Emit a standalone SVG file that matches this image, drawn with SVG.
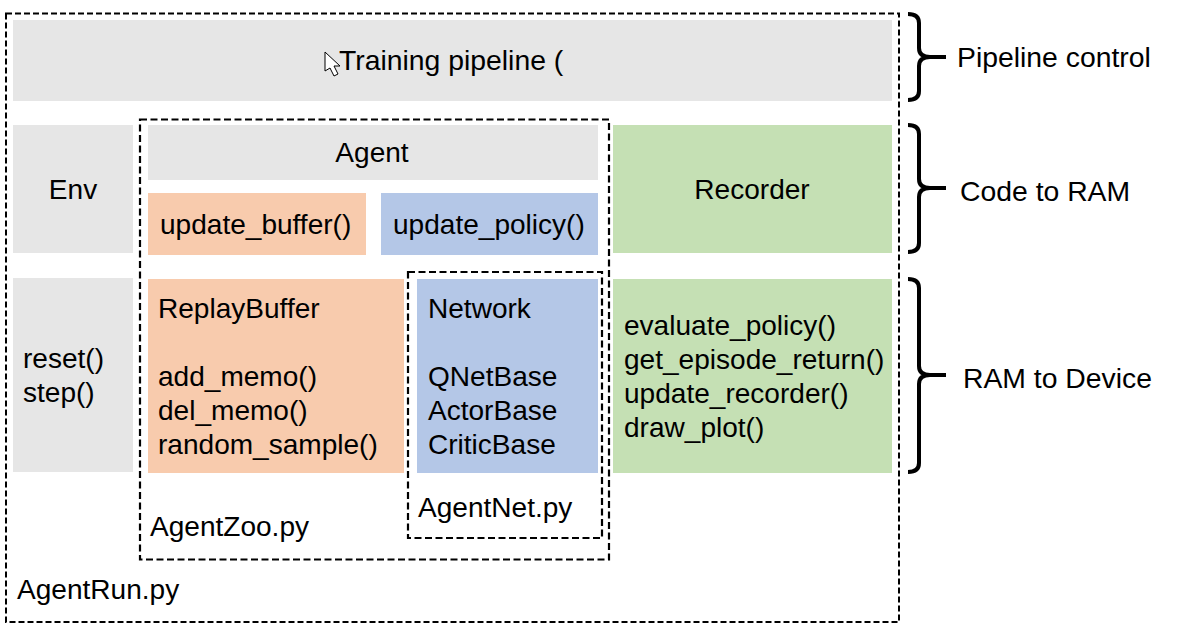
<svg xmlns="http://www.w3.org/2000/svg" width="1177" height="632" viewBox="0 0 1177 632">
<style>
text{font-family:"Liberation Sans",Arial,sans-serif;font-size:28.05px;fill:#000}
.l{font-size:28.35px}
.m{text-anchor:middle}
.gray{fill:#e6e6e6}.or{fill:#f8cbad}.bl{fill:#b4c7e7}.gr{fill:#c5e0b4}
.dash{fill:none;stroke:#000;stroke-width:2;stroke-dasharray:6 3}
.dash2{fill:none;stroke:#000;stroke-width:2.2;stroke-dasharray:7 3.5}
.brace{fill:none;stroke:#000;stroke-width:4}
</style>
<rect width="1177" height="632" fill="#fff"/>
<g id="agentrun"><rect class="dash" x="6" y="13.5" width="893" height="608.5"/><text x="17" y="599">AgentRun.py</text></g>
<g id="pipeline"><rect class="gray" x="13" y="20" width="879" height="81"/><text class="l" x="339" y="70">Training pipeline (</text>
<path d="M325 52V71L330 68L334 76L338 74L334 66L340 66Z" fill="#fff" stroke="#000" stroke-width="1"/></g>
<g id="env"><rect class="gray" x="13" y="125" width="120" height="128"/><text class="m" x="73" y="199">Env</text></g>
<g id="envmethods"><rect class="gray" x="13" y="278" width="120" height="194"/><text x="23" y="368">reset()</text><text x="23" y="402">step()</text></g>
<g id="agentzoo"><rect class="dash2" x="140" y="119.5" width="469" height="440"/><text x="150" y="536">AgentZoo.py</text></g>
<g id="agent"><rect class="gray" x="148" y="125" width="450" height="55"/><text class="m" x="372" y="162">Agent</text></g>
<g id="updatebuffer"><rect class="or" x="148" y="193" width="218" height="62"/><text x="160" y="234">update_buffer()</text></g>
<g id="updatepolicy"><rect class="bl" x="381" y="193" width="217" height="62"/><text x="393" y="234">update_policy()</text></g>
<g id="replaybuffer"><rect class="or" x="148" y="279" width="256" height="194"/><text x="158" y="318">ReplayBuffer</text><text x="158" y="386">add_memo()</text><text x="158" y="420">del_memo()</text><text x="158" y="454">random_sample()</text></g>
<g id="agentnet"><rect class="dash2" x="408" y="272" width="194" height="266"/><text x="418" y="517">AgentNet.py</text></g>
<g id="network"><rect class="bl" x="417" y="279" width="181" height="194"/><text x="428" y="318">Network</text><text x="428" y="386">QNetBase</text><text x="428" y="420">ActorBase</text><text x="428" y="454">CriticBase</text></g>
<g id="recorder"><rect class="gr" x="613" y="125" width="279" height="128"/><text class="m" x="752" y="199">Recorder</text></g>
<g id="recordermethods"><rect class="gr" x="613" y="279" width="279" height="194"/><text x="624" y="335">evaluate_policy()</text><text x="624" y="369">get_episode_return()</text><text x="624" y="403">update_recorder()</text><text x="624" y="437">draw_plot()</text></g>
<g id="connectors">
<path class="brace" d="M908 14Q919 14 919 23V48Q919 57 930 57H946M930 57Q919 57 919 66V91Q919 100 908 100"/>
<path class="brace" d="M908 125Q919 125 919 134V179Q919 188 930 188H946M930 188Q919 188 919 197V243Q919 252 908 252"/>
<path class="brace" d="M908 279Q919 279 919 288V366Q919 375 930 375H946M930 375Q919 375 919 384V463Q919 472 908 472"/>
</g>
<g id="bracelabels"><text class="l" x="957" y="67">Pipeline control</text><text class="l" x="960" y="201">Code to RAM</text><text class="l" x="963" y="388">RAM to Device</text></g>
</svg>
